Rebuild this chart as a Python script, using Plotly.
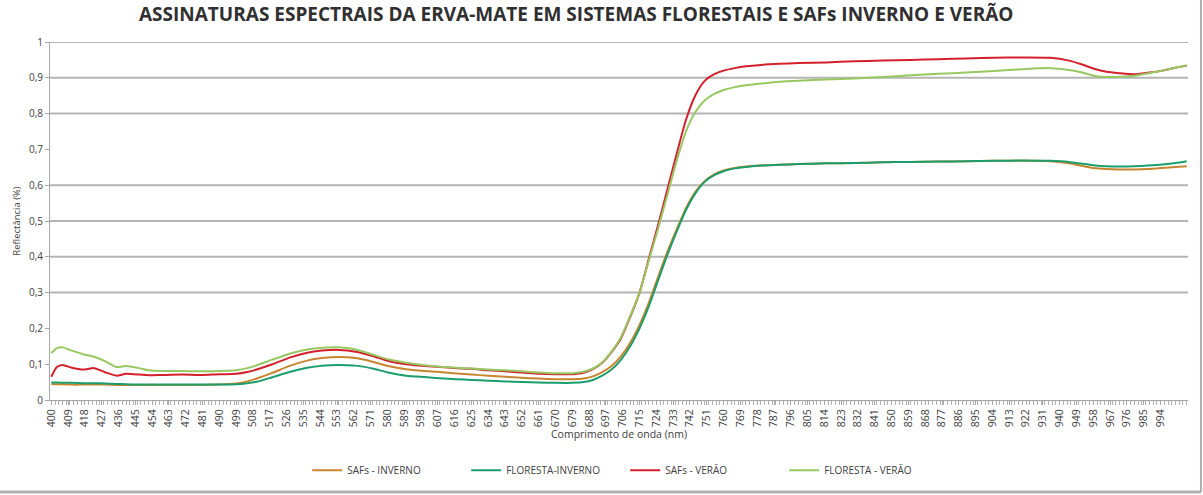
import plotly.graph_objects as go

wavelength = [400, 403, 406, 411, 417, 423, 429, 435, 440, 447, 452, 460, 470, 480, 490, 499,
              505, 510, 518, 528, 537, 545, 554, 563, 572, 581, 590, 600, 608, 617, 625, 634,
              643, 652, 661, 670, 679, 685, 690, 695, 700, 705, 710, 715, 720, 725, 730, 735,
              740, 745, 750, 755, 760, 766, 772, 780, 790, 800, 815, 830, 845, 860, 875, 890,
              905, 920, 935, 945, 952, 958, 965, 972, 980, 987, 995, 1002, 1008]

safs_inverno = [0.045, 0.044, 0.044, 0.043, 0.043, 0.043, 0.043, 0.042, 0.042, 0.042, 0.042, 0.042,
                0.042, 0.042, 0.043, 0.046, 0.052, 0.060, 0.075, 0.096, 0.110, 0.117, 0.120, 0.117,
                0.107, 0.094, 0.086, 0.081, 0.078, 0.074, 0.071, 0.068, 0.065, 0.062, 0.060, 0.058,
                0.058, 0.060, 0.066, 0.078, 0.095, 0.122, 0.160, 0.210, 0.272, 0.345, 0.415, 0.478,
                0.537, 0.582, 0.612, 0.630, 0.641, 0.648, 0.652, 0.655, 0.657, 0.659, 0.661, 0.662,
                0.664, 0.665, 0.666, 0.667, 0.668, 0.668, 0.667, 0.661, 0.654, 0.648, 0.645, 0.644,
                0.644, 0.645, 0.648, 0.651, 0.653]

floresta_inverno = [0.049, 0.049, 0.048, 0.048, 0.047, 0.047, 0.046, 0.045, 0.044, 0.043, 0.043, 0.043,
                    0.043, 0.043, 0.043, 0.044, 0.047, 0.051, 0.063, 0.079, 0.090, 0.096, 0.098, 0.096,
                    0.088, 0.076, 0.068, 0.064, 0.061, 0.058, 0.056, 0.054, 0.052, 0.050, 0.049, 0.048,
                    0.048, 0.050, 0.056, 0.068, 0.085, 0.112, 0.150, 0.200, 0.262, 0.335, 0.407, 0.472,
                    0.532, 0.578, 0.610, 0.628, 0.639, 0.647, 0.651, 0.655, 0.657, 0.659, 0.661, 0.662,
                    0.664, 0.665, 0.666, 0.667, 0.668, 0.669, 0.668, 0.665, 0.660, 0.656, 0.653, 0.652,
                    0.653, 0.655, 0.658, 0.662, 0.667]

safs_verao = [0.065, 0.092, 0.098, 0.090, 0.085, 0.089, 0.077, 0.068, 0.073, 0.071, 0.069, 0.070,
              0.071, 0.070, 0.072, 0.073, 0.078, 0.085, 0.099, 0.119, 0.132, 0.138, 0.140, 0.135,
              0.123, 0.108, 0.100, 0.095, 0.092, 0.089, 0.087, 0.083, 0.080, 0.077, 0.073, 0.072,
              0.072, 0.076, 0.086, 0.104, 0.134, 0.172, 0.232, 0.300, 0.395, 0.490, 0.590, 0.690,
              0.785, 0.852, 0.892, 0.910, 0.920, 0.927, 0.932, 0.936, 0.939, 0.941, 0.943, 0.946,
              0.948, 0.950, 0.952, 0.954, 0.956, 0.957, 0.956, 0.948, 0.937, 0.926, 0.917, 0.913,
              0.910, 0.914, 0.920, 0.928, 0.934]

floresta_verao = [0.131, 0.145, 0.147, 0.138, 0.128, 0.121, 0.108, 0.092, 0.095, 0.089, 0.083, 0.081,
                  0.081, 0.080, 0.081, 0.083, 0.089, 0.097, 0.112, 0.130, 0.141, 0.146, 0.147, 0.141,
                  0.127, 0.113, 0.104, 0.097, 0.093, 0.090, 0.088, 0.085, 0.083, 0.080, 0.077, 0.075,
                  0.075, 0.079, 0.088, 0.105, 0.135, 0.175, 0.235, 0.300, 0.390, 0.480, 0.575, 0.670,
                  0.752, 0.805, 0.837, 0.855, 0.866, 0.874, 0.879, 0.884, 0.889, 0.892, 0.895, 0.898,
                  0.902, 0.907, 0.911, 0.915, 0.919, 0.924, 0.927, 0.922, 0.915, 0.906, 0.902, 0.903,
                  0.906, 0.912, 0.920, 0.928, 0.935]

series_names = ["SAFs - INVERNO", "FLORESTA-INVERNO", "SAFs - VERÃO", "FLORESTA - VERÃO"]
series_values = [safs_inverno, floresta_inverno, safs_verao, floresta_verao]
series_colors = ["#c8842e", "#1c9e6c", "#d4202c", "#98c862"]

x_tick_values = list(range(400, 995, 9))
y_tick_values = [0, 0.1, 0.2, 0.3, 0.4, 0.5, 0.6, 0.7, 0.8, 0.9, 1]
y_tick_labels = ["0", "0,1", "0,2", "0,3", "0,4", "0,5", "0,6", "0,7", "0,8", "0,9", "1"]
grid_levels = [0.3, 0.4, 0.5, 0.6, 0.8, 0.9, 1.0]

font_family = "Open Sans, Liberation Sans, Arial, sans-serif"

fig = go.Figure()

# horizontal gridlines (only the ones visible in the original)
for g in grid_levels:
    fig.add_hline(y=g, line=dict(color="#b4b4b4", width=2), layer="below")

for name, vals, col in zip(series_names, series_values, series_colors):
    fig.add_trace(go.Scatter(x=wavelength, y=vals, name=name, mode="lines",
                             line=dict(color=col, width=2, shape="spline", smoothing=0.6)))

fig.update_layout(
    template="none",
    width=1203, height=495,
    margin=dict(l=50, r=15, t=42, b=95, autoexpand=False),
    paper_bgcolor="white", plot_bgcolor="white",
    font=dict(family=font_family, color="#404040"),
    title=dict(text="<b>ASSINATURAS ESPECTRAIS DA ERVA-MATE EM SISTEMAS FLORESTAIS E SAFs INVERNO E VERÃO</b>",
               x=0.479, xref="container", xanchor="center", y=0.972, yanchor="middle",
               font=dict(size=19, color="#303030", family=font_family)),
    xaxis=dict(range=[399.3, 1008.7], tickmode="array", tickvals=x_tick_values,
               ticktext=[str(v) for v in x_tick_values], tickangle=-90, automargin=False,
               tickfont=dict(size=10.5, color="#404040"), showgrid=False, zeroline=False,
               showline=True, linecolor="#a6a6a6", linewidth=1,
               ticks="outside", ticklen=4, tickcolor="#a6a6a6",
               minor=dict(ticks="outside", dtick=2, tick0=400, ticklen=4, tickcolor="#b0b0b0",
                          showgrid=False),
               title=dict(text="Comprimento de onda (nm)", font=dict(size=10.5, color="#404040"), standoff=2)),
    yaxis=dict(range=[0, 1], tickmode="array", tickvals=y_tick_values, ticktext=y_tick_labels,
               tickfont=dict(size=10, color="#404040"), showgrid=False, zeroline=False, automargin=False,
               showline=True, linecolor="#a6a6a6", linewidth=1, ticks="outside", ticklen=4,
               tickcolor="#a6a6a6",
               title=dict(text="Reflectância (%)", font=dict(size=9.5, color="#404040"), standoff=6)),
    legend=dict(orientation="h", x=0.226, xanchor="left", y=-0.196, yanchor="middle",
                font=dict(size=10, color="#404040"), itemwidth=30, entrywidth=114,
                entrywidthmode="pixels", bgcolor="rgba(0,0,0,0)"),
    showlegend=True,
)

# outer chart-area border (right and bottom)
fig.add_shape(type="line", xref="paper", yref="paper", x0=-0.05, x1=1.0114, y0=-0.257, y1=-0.257,
              line=dict(color="#b0b0b0", width=3))
fig.add_shape(type="line", xref="paper", yref="paper", x0=1.0114, x1=1.0114, y0=-0.257, y1=1.12,
              line=dict(color="#b0b0b0", width=2))

fig.write_html("out.html")
